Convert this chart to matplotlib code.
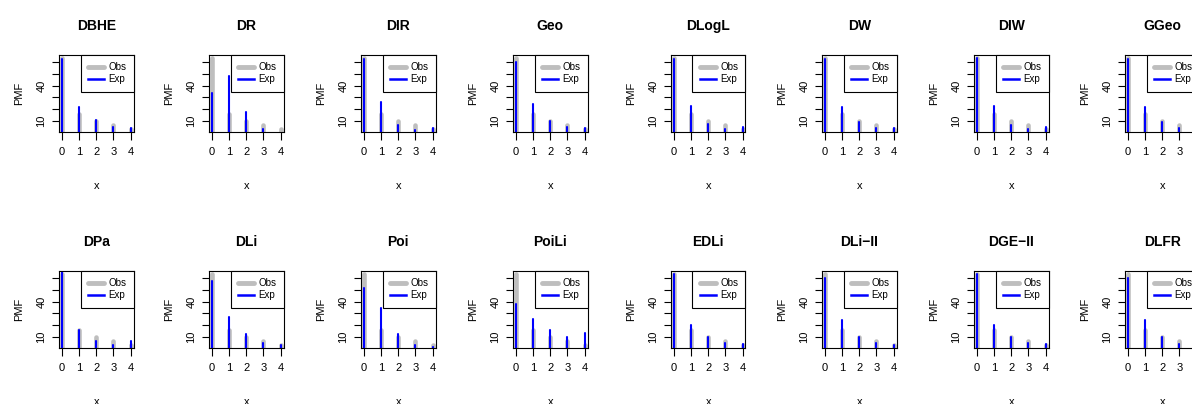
import matplotlib
matplotlib.use('Agg')
import matplotlib.pyplot as plt
from matplotlib.lines import Line2D

plt.rcParams['font.family'] = ['Liberation Sans', 'DejaVu Sans']

# observed frequencies (%) and expected ones for each fitted model
x = [0, 1, 2, 3, 4]
obs = [64.0, 16.0, 10.2, 6.0, 3.2]

models = ['DBHE', 'DR', 'DIR', 'Geo', 'DLogL', 'DW', 'DIW', 'GGeo',
          'DPa', 'DLi', 'Poi', 'PoiLi', 'EDLi', 'DLi\u2212II', 'DGE\u2212II', 'DLFR']

exp_dbhe = [63.0, 21.5, 10.5, 4.5, 4.0]
exp_dr = [34.0, 48.0, 17.5, 3.0, 0.8]
exp_dir = [63.0, 26.5, 6.5, 2.5, 3.5]
exp_geo = [60.5, 24.5, 10.0, 4.5, 3.5]
exp_dlogl = [63.0, 23.0, 7.2, 3.2, 5.0]
exp_dw = [63.0, 22.0, 9.3, 4.0, 4.0]
exp_diw = [63.5, 23.0, 6.8, 3.0, 5.0]
exp_ggeo = [63.0, 21.5, 9.0, 4.2, 4.0]
exp_dpa = [68.0, 15.5, 6.5, 3.3, 6.7]
exp_dli = [58.0, 27.2, 12.0, 4.5, 2.8]
exp_poi = [52.0, 34.5, 12.0, 3.0, 1.0]
exp_poili = [38.0, 25.5, 16.0, 10.0, 13.0]
exp_edli = [64.0, 20.0, 10.0, 4.5, 4.0]
exp_dli2 = [60.0, 24.5, 10.0, 4.5, 3.3]
exp_dge2 = [64.0, 20.5, 9.6, 4.7, 4.0]
exp_dlfr = [60.0, 24.5, 10.0, 4.2, 3.5]

expected = [exp_dbhe, exp_dr, exp_dir, exp_geo, exp_dlogl, exp_dw, exp_diw,
            exp_ggeo, exp_dpa, exp_dli, exp_poi, exp_poili, exp_edli,
            exp_dli2, exp_dge2, exp_dlfr]

GRAY = '#bebebe'
BLUE = '#0000ff'

W, H = 1192, 404
lefts = [59, 209, 361, 513, 671, 822, 974, 1125]
tops = [55, 271]
bw, bh = 74.5, 76.5

fig = plt.figure(figsize=(W / 100, H / 100), dpi=100)

for i, (name, e) in enumerate(zip(models, expected)):
    r, c = divmod(i, 8)
    ax = fig.add_axes([lefts[c] / W, 1 - (tops[r] + bh) / H, bw / W, bh / H])
    ax.vlines(x, 0, obs, color=GRAY, lw=3.3, capstyle='round')
    ax.vlines(x, 0, e, color=BLUE, lw=1.5, capstyle='round')
    ax.set_xlim(-0.16, 4.16)
    ax.set_ylim(0.8, 66.4)
    ax.set_xticks(x)
    ax.set_yticks([10, 20, 30, 40, 50, 60])
    ax.set_yticklabels(['10', '', '', '40', '', ''])
    plt.setp(ax.get_yticklabels(), rotation=90, va='center')
    ax.tick_params(axis='x', length=6, width=0.8, labelsize=8, pad=5.5)
    ax.tick_params(axis='y', length=5, width=0.8, labelsize=8, pad=4)
    for s in ax.spines.values():
        s.set_linewidth(0.8)
    ax.set_title(name, fontsize=10, fontweight='bold', pad=18)
    ax.set_xlabel('x', fontsize=8)
    ax.xaxis.set_label_coords(0.5, -0.65)
    ax.set_ylabel('PMF', fontsize=8)
    ax.yaxis.set_label_coords(-0.47, 0.5)

    handles = [Line2D([], [], color=GRAY, lw=3.5, solid_capstyle='round'),
               Line2D([], [], color=BLUE, lw=1.8)]
    leg = ax.legend(handles, ['Obs', 'Exp'], loc='upper right',
                    borderaxespad=0, fancybox=False, edgecolor='black',
                    framealpha=1, fontsize=7, handlelength=1.7,
                    handletextpad=0.4, borderpad=0.75, labelspacing=0.2)
    leg.get_frame().set_linewidth(0.8)

plt.savefig('out.png', dpi=100)
